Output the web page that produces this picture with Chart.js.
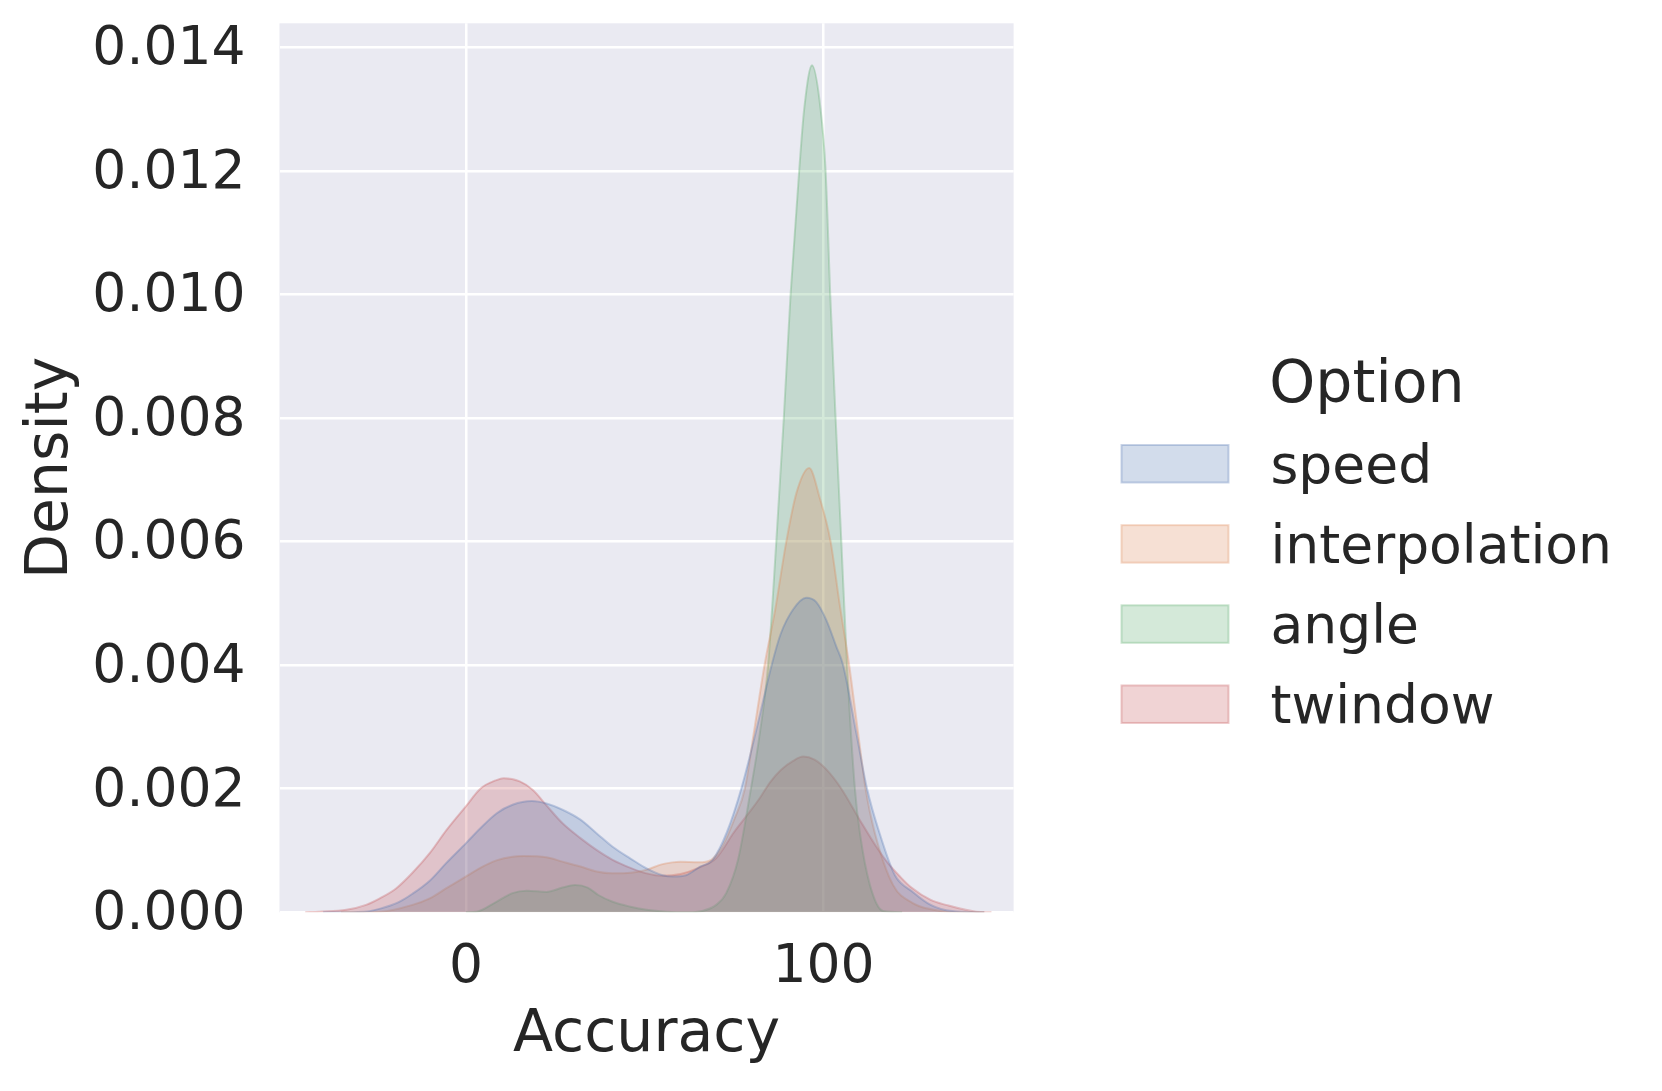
<!DOCTYPE html>
<html>
<head>
<meta charset="utf-8">
<script src="https://cdn.jsdelivr.net/npm/chart.js@4.4.1/dist/chart.umd.min.js"></script>
<style>
  html, body { margin: 0; padding: 0; background: #ffffff; }
  #wrap { position: relative; width: 1662px; height: 1091px; }
  #c { position: absolute; left: 0; top: 0; }
  #legend { position: absolute; left: 0; top: 0; pointer-events: none; }
</style>
</head>
<body>
<div id="wrap">
  <canvas id="c" width="1662" height="1091"></canvas>
  <svg id="legend" width="1662" height="1091" xmlns="http://www.w3.org/2000/svg"></svg>
</div>
<script>
// ---------- data ----------
const seriesNames = ['speed', 'interpolation', 'angle', 'twindow'];
const legendTitle = 'Option';
const xTitle = 'Accuracy';
const yTitle = 'Density';
const xTicks = [0, 100];
const yTicks = [0, 0.002, 0.004, 0.006, 0.008, 0.010, 0.012, 0.014];

const speedX = [-40, -28.5, -24, -19, -15, -10, -5.5, 0, 4, 8.5, 13, 18.4, 22.5, 27, 32, 36.5, 41, 46, 50.5, 55, 58, 61.5, 65.5, 69, 73, 77, 81, 85.5, 88, 91.5, 95.2, 98, 100.8, 103.6, 105.5, 109.2, 112.2, 115.7, 120, 125, 130, 136, 145];
const speedY = [0, 0.00001, 0.00006, 0.00016, 0.0003, 0.00052, 0.0008, 0.00112, 0.00136, 0.0016, 0.00174, 0.0018, 0.00176, 0.00166, 0.0015, 0.00128, 0.00106, 0.00087, 0.00071, 0.0006, 0.00058, 0.0006, 0.00074, 0.00085, 0.0013, 0.002, 0.0029, 0.004, 0.0045, 0.0049, 0.00509, 0.00502, 0.00473, 0.0043, 0.004, 0.0029, 0.002, 0.00128, 0.0006, 0.00033, 0.00012, 0.00002, 0];

const interpX = [-35, -24, -15, -10, -5.5, 0, 4, 8.5, 13, 16, 22.5, 27, 32, 36.5, 41, 46, 50.5, 55, 60, 65, 68.6, 72, 75, 78, 80.5, 83.5, 86.5, 89.6, 92.5, 96, 99, 102, 104.5, 107.2, 109.7, 111.8, 114.4, 119.5, 125, 130, 138, 145];
const interpY = [0, 0.00001, 0.00012, 0.00023, 0.00039, 0.00058, 0.00072, 0.00084, 0.0009, 0.00091, 0.00089, 0.00082, 0.00074, 0.00066, 0.00063, 0.00064, 0.00069, 0.00078, 0.00082, 0.00081, 0.00085, 0.0011, 0.0015, 0.002, 0.0029, 0.004, 0.0049, 0.006, 0.0068, 0.00719, 0.0067, 0.006, 0.005, 0.004, 0.0029, 0.002, 0.00128, 0.00044, 0.00015, 0.00005, 0, 0];

const angleX = [0, 3, 8.5, 13, 17, 22.5, 27, 30.5, 34, 37, 41, 46, 50.5, 56, 62, 66, 70, 72.8, 76.1, 79.4, 82.2, 84.5, 86.8, 88.9, 90.8, 93.2, 94.6, 96.8, 99.2, 100.6, 101.9, 103.4, 105, 106.6, 108.8, 110.2, 113, 116.7, 122];
const angleY = [0, 0.00001, 0.00017, 0.00031, 0.00035, 0.00033, 0.0004, 0.00044, 0.0004, 0.00028, 0.00017, 0.00009, 0.00004, 0.00001, 0, 0.00002, 0.00012, 0.00031, 0.00085, 0.0019, 0.0029, 0.004, 0.006, 0.008, 0.010, 0.012, 0.013, 0.01371, 0.013, 0.012, 0.010, 0.008, 0.006, 0.004, 0.002, 0.00128, 0.00044, 0.00002, 0];

const twinX = [-45, -41, -33.5, -28, -24, -19.5, -15, -10, -5.5, 0, 4, 8.5, 10.5, 15, 18.7, 22.5, 27, 32, 36.5, 41, 46, 50.5, 55, 60, 65, 70, 75, 79, 82.2, 85, 88, 91.5, 94.3, 97.5, 101, 105, 110.2, 114.8, 118, 121.4, 124.6, 130, 134.3, 142.7, 147];
const twinY = [0, 0.00001, 0.00004, 0.00012, 0.00023, 0.00039, 0.00064, 0.00097, 0.00133, 0.00172, 0.002, 0.00214, 0.00217, 0.00212, 0.00198, 0.00173, 0.00144, 0.0012, 0.00101, 0.00085, 0.00072, 0.00063, 0.00059, 0.00062, 0.00072, 0.00088, 0.0013, 0.0016, 0.00185, 0.0021, 0.0023, 0.00245, 0.00252, 0.00247, 0.0023, 0.002, 0.00149, 0.00106, 0.0008, 0.00058, 0.0004, 0.0002, 0.00012, 0.00001, 0];

const xMin = -52.2, xMax = 153.2;
const yMin = 0, yMax = 0.014388;

// ---------- styling ----------
const seriesColors = [[76, 114, 176], [221, 132, 82], [85, 168, 104], [196, 78, 82]];
const textColor = '#262626';
const fontFamily = "'DejaVu Sans', sans-serif";
const tickSize = 53.5, titleSize = 58.5;
const rgba = (c, a) => `rgba(${c[0]},${c[1]},${c[2]},${a})`;

Chart.defaults.font.family = fontFamily;
Chart.defaults.color = textColor;

const xsAll = [speedX, interpX, angleX, twinX];
const ysAll = [speedY, interpY, angleY, twinY];

const datasets = seriesNames.map((name, i) => ({
  label: name,
  data: xsAll[i].map((x, j) => ({ x: x, y: ysAll[i][j] })),
  borderColor: rgba(seriesColors[i], 0.3),
  backgroundColor: rgba(seriesColors[i], 0.25),
  borderWidth: 2,
  fill: 'origin',
  pointRadius: 0,
  pointHoverRadius: 0,
  cubicInterpolationMode: 'monotone'
}));

const plotBg = {
  id: 'plotBg',
  beforeDraw(chart) {
    const { ctx, chartArea: a } = chart;
    ctx.save();
    ctx.fillStyle = '#EAEAF2';
    ctx.fillRect(a.left, a.top, a.right - a.left, a.bottom - a.top);
    ctx.restore();
  }
};

new Chart(document.getElementById('c'), {
  type: 'line',
  data: { datasets: datasets },
  options: {
    responsive: false,
    animation: false,
    devicePixelRatio: 1,
    layout: { padding: { left: 0, top: 23.3, right: 648.4, bottom: 0 } },
    plugins: { legend: { display: false }, tooltip: { enabled: false } },
    scales: {
      x: {
        type: 'linear',
        min: xMin,
        max: xMax,
        afterBuildTicks(s) { s.ticks = xTicks.map(v => ({ value: v })); },
        afterFit(s) { s.height = 178.7; s.paddingLeft = 0; s.paddingRight = 0; },
        grid: { color: '#ffffff', lineWidth: 2.5, drawTicks: false },
        border: { display: false },
        ticks: {
          font: { size: tickSize }, color: textColor, padding: 23.8,
          maxRotation: 0, autoSkip: false,
          callback: v => String(v)
        },
        title: {
          display: true, text: xTitle, color: textColor,
          font: { size: titleSize }, padding: { top: 0, bottom: 20.6 }
        }
      },
      y: {
        type: 'linear',
        min: yMin,
        max: yMax,
        afterBuildTicks(s) { s.ticks = yTicks.map(v => ({ value: v })); },
        afterFit(s) { s.width = 279.5; s.paddingTop = 0; s.paddingBottom = 0; },
        grid: { color: '#ffffff', lineWidth: 2.5, drawTicks: false },
        border: { display: false },
        ticks: {
          font: { size: tickSize }, color: textColor, padding: 34, labelOffset: 3,
          callback: v => Number(v).toFixed(3)
        },
        title: {
          display: true, text: yTitle, color: textColor,
          font: { size: titleSize }, padding: { top: 16.5, bottom: 0 }
        }
      }
    }
  },
  plugins: [plotBg]
});

// ---------- legend (real SVG text) ----------
const svgNS = 'http://www.w3.org/2000/svg';
const lg = document.getElementById('legend');
function el(tag, attrs, text) {
  const e = document.createElementNS(svgNS, tag);
  for (const k in attrs) e.setAttribute(k, attrs[k]);
  if (text !== undefined) e.textContent = text;
  lg.appendChild(e);
  return e;
}
const legendTextX = 1270.5;
el('text', { x: legendTextX - 1.2, y: 401.7, 'font-family': fontFamily, 'font-size': titleSize, fill: textColor }, legendTitle);
const swatchLeft = 1121.5, swatchW = 107, swatchH = 37.5, firstSwatchTop = 445, rowStep = 80.15;
seriesNames.forEach((name, i) => {
  const top = firstSwatchTop + i * rowStep;
  el('rect', {
    x: swatchLeft, y: top, width: swatchW, height: swatchH,
    fill: rgba(seriesColors[i], 0.25), stroke: rgba(seriesColors[i], 0.3), 'stroke-width': 2
  });
  el('text', { x: legendTextX, y: top + 37.6, 'font-family': fontFamily, 'font-size': tickSize, fill: textColor }, name);
});
</script>
</body>
</html>
